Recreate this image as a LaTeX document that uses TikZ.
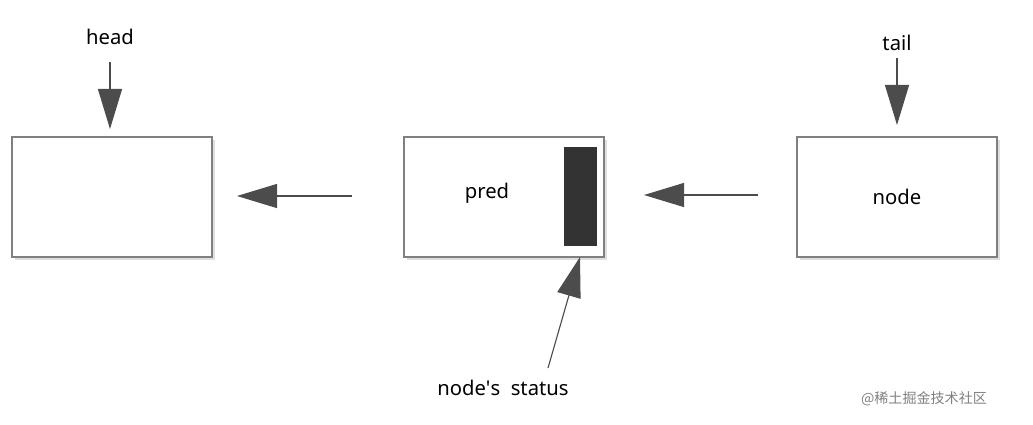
\documentclass[tikz,border=0pt]{standalone}
\usepackage{fontspec}
\setmainfont{Noto Sans}
\newfontfamily\cjk{Noto Sans CJK SC}
\usetikzlibrary{arrows.meta,shadows}
\tikzstyle{block} = [rectangle, draw=gray, thick, fill=white, minimum width=200*0.025cm, minimum height=120*0.025cm, drop shadow={shadow xshift=2pt, shadow yshift=-2pt, opacity=0.25}]
\tikzstyle{arrow} = [draw=black!70, thick, -{Triangle[length=1cm, width=0.6cm]}]
\tikzstyle{tag} = [font=\bfseries\Large]
\begin{document}
\begin{tikzpicture}[x=0.025cm, y=-0.025cm]
\useasboundingbox (0,0) rectangle (1033,424);
%% list nodes
\node[block] at (112, 197) (headbox) {};
\node[block] at (504, 197) (predbox) {};
\node[block, tag] at (897, 197) (tailbox) {node};
\node[tag] at (487, 193) (pred) {pred};
\node[rectangle, fill=black!80, minimum width=33*0.025cm, minimum height=99*0.025cm, inner sep=0] at (580, 196) (status) {};

%% pointers
\node[tag] at (110, 37) (head) {head};
\node[tag] at (897, 43) (tail) {tail};
\coordinate (hs) at (110, 62);
\coordinate (ht) at (110, 129);
\coordinate (ts) at (897, 58);
\coordinate (tt) at (897, 125);
\path[arrow] (hs) to (ht);
\path[arrow] (ts) to (tt);

%% links
\coordinate (l1) at (352, 196);
\coordinate (l1t) at (237, 196);
\coordinate (l2) at (758, 195);
\coordinate (l2t) at (644, 195);
\path[arrow] (l1) to (l1t);
\path[arrow] (l2) to (l2t);

%% status label
\node[tag] at (503, 388) (statuslabel) {node\textquotesingle s~~status};
\coordinate (sl) at (548, 368);
\coordinate (st) at (580, 257);
\path[arrow] (sl) to (st);

\node[text=gray, font=\cjk\normalsize] at (924, 399) (mark) {@稀土掘金技术社区};
\end{tikzpicture}
\end{document}
